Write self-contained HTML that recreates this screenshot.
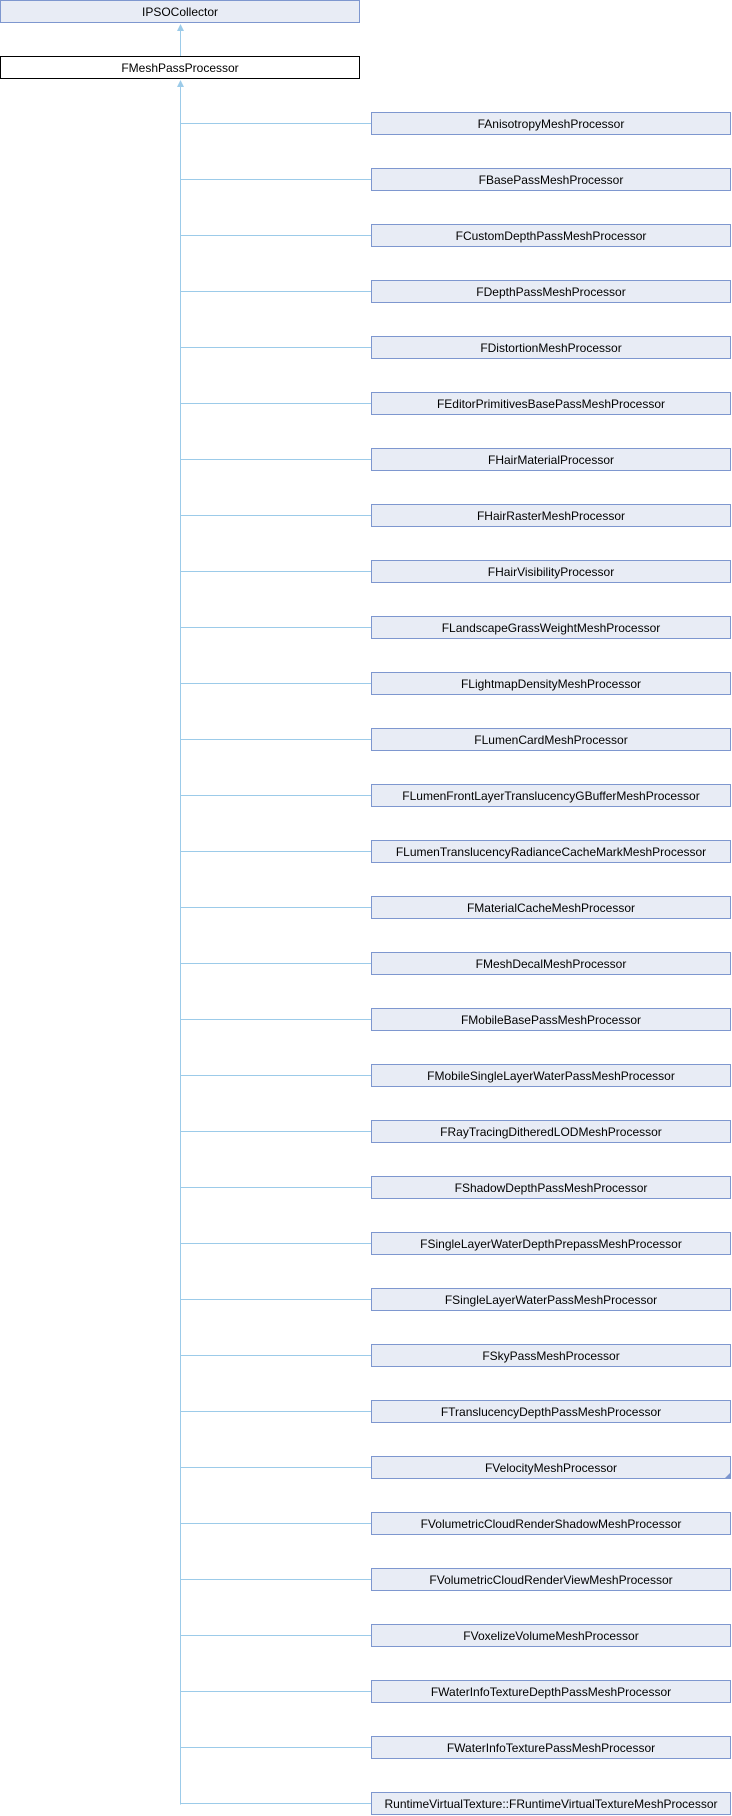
<!DOCTYPE html>
<html><head><meta charset="utf-8"><style>
html,body{margin:0;padding:0;background:#fff;width:732px;height:1816px;overflow:hidden}
svg text{font-family:"Liberation Sans",Arial,sans-serif;font-size:12px;fill:#000}
</style></head><body>
<svg width="732" height="1816" viewBox="0 0 732 1816" xmlns="http://www.w3.org/2000/svg">
<g stroke="#9ccbe9" stroke-width="1" fill="none">
<line x1="180.5" y1="30" x2="180.5" y2="56"/>
<line x1="180.5" y1="86" x2="180.5" y2="1804.5"/>
</g>
<g fill="#9ccbe9">
<polygon points="180.5,24 177,31 184,31"/>
<polygon points="180.5,80 177,87 184,87"/>
</g>
<rect x="0.5" y="0.5" width="359" height="22" fill="#e8ecf5" stroke="#7e97cf"/>
<text x="180" y="16" text-anchor="middle">IPSOCollector</text>
<rect x="0.5" y="56.5" width="359" height="22" fill="#fff" stroke="#000"/>
<text x="180" y="72" text-anchor="middle">FMeshPassProcessor</text>
<g id="kids"></g>
</svg>
<script>
var names=["FAnisotropyMeshProcessor","FBasePassMeshProcessor","FCustomDepthPassMeshProcessor","FDepthPassMeshProcessor","FDistortionMeshProcessor","FEditorPrimitivesBasePassMeshProcessor","FHairMaterialProcessor","FHairRasterMeshProcessor","FHairVisibilityProcessor","FLandscapeGrassWeightMeshProcessor","FLightmapDensityMeshProcessor","FLumenCardMeshProcessor","FLumenFrontLayerTranslucencyGBufferMeshProcessor","FLumenTranslucencyRadianceCacheMarkMeshProcessor","FMaterialCacheMeshProcessor","FMeshDecalMeshProcessor","FMobileBasePassMeshProcessor","FMobileSingleLayerWaterPassMeshProcessor","FRayTracingDitheredLODMeshProcessor","FShadowDepthPassMeshProcessor","FSingleLayerWaterDepthPrepassMeshProcessor","FSingleLayerWaterPassMeshProcessor","FSkyPassMeshProcessor","FTranslucencyDepthPassMeshProcessor","FVelocityMeshProcessor","FVolumetricCloudRenderShadowMeshProcessor","FVolumetricCloudRenderViewMeshProcessor","FVoxelizeVolumeMeshProcessor","FWaterInfoTextureDepthPassMeshProcessor","FWaterInfoTexturePassMeshProcessor","RuntimeVirtualTexture::FRuntimeVirtualTextureMeshProcessor"];
var s="";
for(var i=0;i<names.length;i++){var y=112+56*i;
s+='<line x1="180.5" y1="'+(y+11.5)+'" x2="371" y2="'+(y+11.5)+'" stroke="#9ccbe9"/>';
s+='<rect x="371.5" y="'+(y+0.5)+'" width="359" height="22" fill="#e8ecf5" stroke="#7e97cf"/>';
s+='<text x="551" y="'+(y+16)+'" text-anchor="middle">'+names[i].replace(/&/g,"&amp;")+'</text>';
if(i==24)s+='<polygon points="730,'+(y+17)+' 730,'+(y+22)+' 725,'+(y+22)+'" fill="#7e97cf"/>';}
document.getElementById("kids").innerHTML=s;
</script>
</body></html>
